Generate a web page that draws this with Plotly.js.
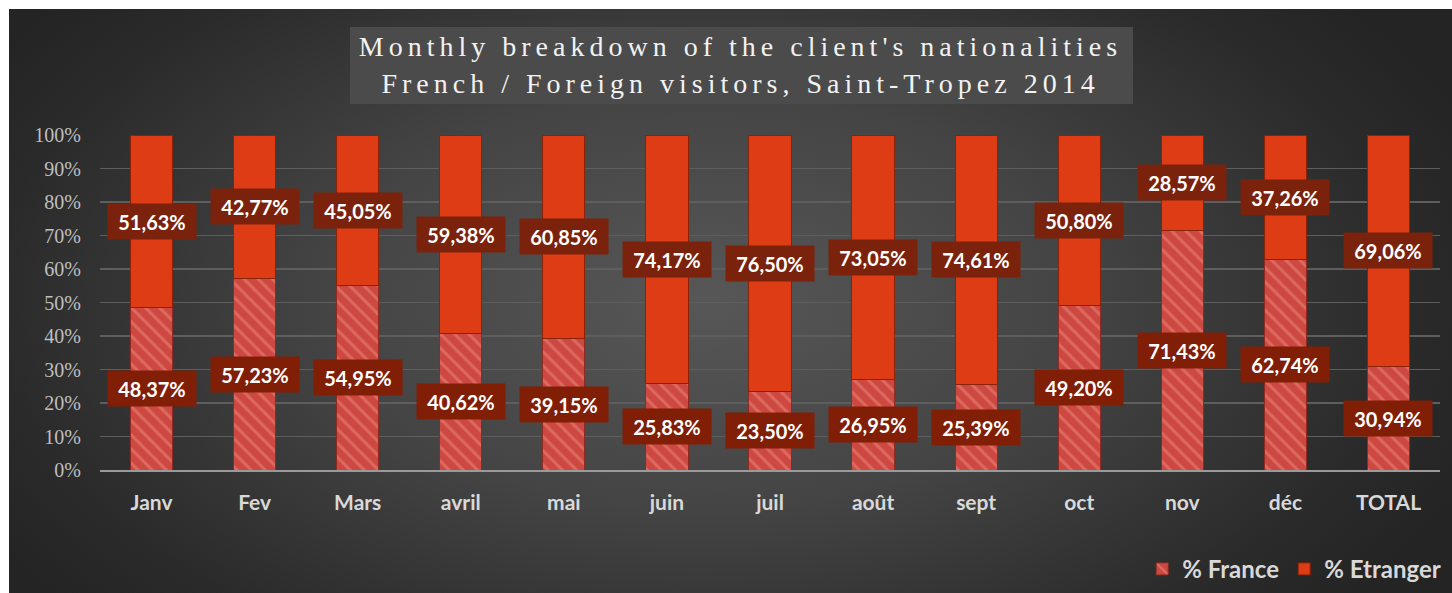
<!DOCTYPE html>
<html>
<head>
<meta charset="utf-8">
<script src="https://cdn.plot.ly/plotly-3.0.1.min.js"></script>
<style>
  html, body { margin: 0; padding: 0; background: #ffffff; width: 1452px; height: 593px; overflow: hidden; }
  #bg { position: absolute; left: 9px; top: 9px; width: 1443px; height: 584px;
        background: radial-gradient(ellipse 58% 80% at 48% 50%, #575757 0%, #444444 45%, #2a2a2a 85%, #242424 100%); }
  #chart { position: absolute; left: 0; top: 0; width: 1452px; height: 593px; }
  .gtitle { letter-spacing: 5px; }
</style>
</head>
<body>
<div id="bg"></div>
<div id="chart"></div>
<script>
const categories = ["Janv", "Fev", "Mars", "avril", "mai", "juin", "juil", "août", "sept", "oct", "nov", "déc", "TOTAL"];
const france =   [48.37, 57.23, 54.95, 40.62, 39.15, 25.83, 23.50, 26.95, 25.39, 49.20, 71.43, 62.74, 30.94];
const etranger = [51.63, 42.77, 45.05, 59.38, 60.85, 74.17, 76.50, 73.05, 74.61, 50.80, 28.57, 37.26, 69.06];
const yTicks = [0, 10, 20, 30, 40, 50, 60, 70, 80, 90, 100];

function fmt(v) { return v.toFixed(2).replace('.', ',') + '%'; }

const labelFont = { family: 'Lato, sans-serif', size: 20, color: '#ffffff', weight: 'bold' };

const annotations = [];
categories.forEach((c, i) => {
  annotations.push({
    x: c, y: france[i] / 2, xref: 'x', yref: 'y', text: '<b>' + fmt(france[i]) + '</b>',
    showarrow: false, font: labelFont, bgcolor: '#801e06', width: 86, height: 33, borderpad: 1
  });
  annotations.push({
    x: c, y: france[i] + etranger[i] / 2, xref: 'x', yref: 'y', text: '<b>' + fmt(etranger[i]) + '</b>',
    showarrow: false, font: labelFont, bgcolor: '#7a220c', width: 86, height: 33, borderpad: 1
  });
});

const traces = [
  {
    type: 'bar', name: '% France', x: categories, y: france, width: 0.41,
    marker: { color: '#cf4a42', line: { color: '#8e2a22', width: 1 },
              pattern: { shape: '\\', fillmode: 'replace', bgcolor: '#cd4840', fgcolor: '#dc6a60', size: 10, solidity: 0.3 } },
    hoverinfo: 'skip'
  },
  {
    type: 'bar', name: '% Etranger', x: categories, y: etranger, width: 0.41,
    marker: { color: '#dd3c14', line: { color: '#8a2208', width: 1 } },
    hoverinfo: 'skip'
  }
];

const layout = {
  width: 1452, height: 593,
  paper_bgcolor: 'rgba(0,0,0,0)', plot_bgcolor: 'rgba(0,0,0,0)',
  margin: { l: 100, r: 12, t: 135, b: 123, autoexpand: false },
  barmode: 'stack', bargap: 0.59,
  showlegend: true,
  title: {
    text: "Monthly breakdown of the client's nationalities<br>French / Foreign visitors, Saint-Tropez 2014",
    font: { family: 'Liberation Serif, serif', size: 28, color: '#f2f2f2' },
    x: 0.478, xanchor: 'center', xref: 'paper', y: 0.905, yanchor: 'middle', yref: 'container'
  },
  shapes: [{
    type: 'rect', xref: 'paper', yref: 'paper', layer: 'below',
    x0: (350 - 100) / 1340, x1: (1133 - 100) / 1340,
    y0: 1 + (135 - 104) / 335, y1: 1 + (135 - 27) / 335,
    fillcolor: '#4b4b4b', line: { width: 0 }
  }],
  xaxis: {
    type: 'category', categoryorder: 'array', categoryarray: categories,
    showgrid: false, zeroline: false, showline: true, linecolor: '#9a9a9a', linewidth: 2,
    ticks: '', ticklabelstandoff: 13,
    tickfont: { family: 'Lato, sans-serif', size: 21, color: '#d9d9d9', weight: 'bold' },
    fixedrange: true
  },
  yaxis: {
    range: [0, 100], tickvals: yTicks, ticktext: yTicks.map(v => v + '%'),
    showgrid: true, gridcolor: '#5e5e5e', gridwidth: 1.5, zeroline: false, showline: false,
    ticks: '', ticklabelstandoff: 18,
    tickfont: { family: 'Liberation Serif, serif', size: 20, color: '#bfbfbf' },
    fixedrange: true
  },
  legend: {
    orientation: 'h', xref: 'container', yref: 'container',
    x: 0.996, xanchor: 'right', y: 0.04, yanchor: 'middle',
    font: { family: 'Lato, sans-serif', size: 24, color: '#d9d9d9', weight: 'bold' },
    bgcolor: 'rgba(0,0,0,0)', itemwidth: 30, traceorder: 'normal'
  },
  annotations: annotations
};

Plotly.newPlot('chart', traces, layout, { displayModeBar: false, staticPlot: true });
</script>
</body>
</html>
